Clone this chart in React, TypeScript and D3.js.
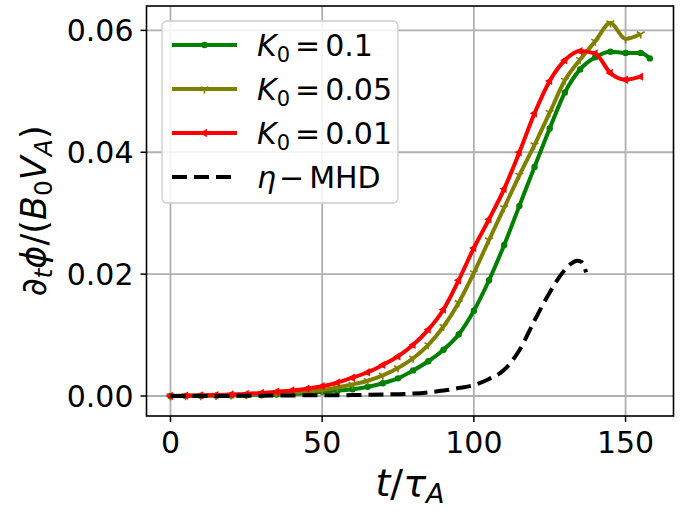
import * as d3 from 'd3'

const W = 685
const H = 515
const PLOT = { left: 146.5, right: 673.5, top: 6, bottom: 416 }

const X_TICKS = [0, 50, 100, 150]
const Y_TICKS = [0, 0.02, 0.04, 0.06]

// K0 = 0.1
const T_GREEN = [0, 5, 10, 15, 20, 25, 30, 35, 40, 45, 50, 55, 60, 65, 70, 75, 80, 85, 90, 95, 100, 105, 110, 115, 120, 125, 130, 135, 140, 145, 150, 155, 158]
const V_GREEN = [0, 0.00002, 0.00004, 0.00007, 0.0001, 0.00013, 0.00018, 0.00025, 0.00035, 0.0005, 0.0007, 0.0009, 0.0011, 0.0015, 0.0021, 0.0029, 0.0042, 0.0057, 0.0076, 0.0101, 0.014, 0.019, 0.0248, 0.0312, 0.0376, 0.0439, 0.0498, 0.0536, 0.0556, 0.0565, 0.0563, 0.0563, 0.0554]

// K0 = 0.05
const T_OLIVE = [0, 5, 10, 15, 20, 25, 30, 35, 40, 45, 50, 55, 60, 65, 70, 75, 80, 85, 90, 95, 100, 105, 110, 115, 120, 125, 130, 135, 140, 145, 150, 155]
const V_OLIVE = [0, 0.00003, 0.00006, 0.0001, 0.00015, 0.0002, 0.0003, 0.0004, 0.00055, 0.00075, 0.001, 0.0014, 0.0019, 0.0025, 0.0034, 0.0046, 0.0062, 0.0084, 0.0114, 0.0153, 0.0202, 0.0256, 0.0309, 0.0362, 0.0412, 0.0465, 0.0518, 0.0552, 0.0582, 0.0612, 0.0586, 0.0594]

// K0 = 0.01
const T_RED = [0, 5, 10, 15, 20, 25, 30, 35, 40, 45, 50, 55, 60, 65, 70, 75, 80, 85, 90, 95, 100, 105, 110, 115, 120, 125, 130, 135, 140, 145, 150, 155]
const V_RED = [0, 0.00005, 0.0001, 0.00015, 0.00025, 0.00035, 0.0005, 0.0007, 0.0009, 0.0012, 0.0016, 0.0022, 0.003, 0.0039, 0.0051, 0.0065, 0.0084, 0.0109, 0.0142, 0.019, 0.0243, 0.029, 0.034, 0.04, 0.0464, 0.0517, 0.0551, 0.0566, 0.0562, 0.053, 0.0519, 0.0524]

// eta - MHD
const T_MHD = [0, 10, 20, 30, 40, 50, 60, 70, 80, 85, 90, 95, 100, 105, 110, 115, 120, 125, 130, 132, 134, 135.5, 137]
const V_MHD = [0, 0, 0.00002, 0.00005, 0.0001, 0.00012, 0.00015, 0.00025, 0.0004, 0.0006, 0.0009, 0.0013, 0.0018, 0.0028, 0.0043, 0.0075, 0.0124, 0.017, 0.0207, 0.0217, 0.0222, 0.022, 0.0203]

const FONT = '"DejaVu Sans", sans-serif'

type Pt = { t: number; v: number }
const zip = (ts: number[], vs: number[]): Pt[] => ts.map((t, i) => ({ t, v: vs[i] }))

const x = d3.scaleLinear().domain([-7.9, 165.8]).range([PLOT.left, PLOT.right])
const y = d3.scaleLinear().domain([-0.00328, 0.064]).range([PLOT.bottom, PLOT.top])

const line = d3.line<Pt>().x(d => x(d.t)).y(d => y(d.v)).curve(d3.curveMonotoneX)

const triLeft = d3.symbol(d3.symbolTriangle, 30)() || ''

function Marker({ kind, color, cx, cy }: { kind: string; color: string; cx: number; cy: number }) {
  if (kind === 'dot') return <circle cx={cx} cy={cy} r={3.2} fill={color} />
  if (kind === 'tri') {
    const s = 4.5
    return (
      <path
        d={`M${cx},${cy}L${cx},${cy + s}M${cx},${cy}L${cx - s * 0.87},${cy - s * 0.5}M${cx},${cy}L${cx + s * 0.87},${cy - s * 0.5}`}
        stroke={color}
        strokeWidth={1.6}
        fill="none"
      />
    )
  }
  if (kind === 'left') return <path d={triLeft} transform={`translate(${cx},${cy}) rotate(-90)`} fill={color} />
  return null
}

const SERIES = [
  { data: zip(T_GREEN, V_GREEN), color: '#008000', marker: 'dot', dash: '' },
  { data: zip(T_OLIVE, V_OLIVE), color: '#808000', marker: 'tri', dash: '' },
  { data: zip(T_RED, V_RED), color: '#ff0000', marker: 'left', dash: '' },
  { data: zip(T_MHD, V_MHD), color: '#000000', marker: '', dash: '15,7' },
]

const LEGEND_LABELS = ['0.1', '0.05', '0.01']

export default function App() {
  const legendRows = [45, 89, 133, 177]
  return (
    <svg width={W} height={H} style={{ position: 'absolute', left: 0, top: 0, background: '#fff' }} fontFamily={FONT}>
      <defs>
        <clipPath id="plot-clip">
          <rect x={PLOT.left} y={PLOT.top} width={PLOT.right - PLOT.left} height={PLOT.bottom - PLOT.top} />
        </clipPath>
      </defs>

      {/* grid */}
      {X_TICKS.map(t => (
        <line key={`gx${t}`} x1={x(t)} x2={x(t)} y1={PLOT.top} y2={PLOT.bottom} stroke="#b0b0b0" strokeWidth={1.8} />
      ))}
      {Y_TICKS.map(v => (
        <line key={`gy${v}`} x1={PLOT.left} x2={PLOT.right} y1={y(v)} y2={y(v)} stroke="#b0b0b0" strokeWidth={1.8} />
      ))}

      {/* series */}
      <g clipPath="url(#plot-clip)">
        {SERIES.map((s, i) => (
          <g key={i}>
            <path
              d={line(s.data) || ''}
              fill="none"
              stroke={s.color}
              strokeWidth={4}
              strokeDasharray={s.dash || undefined}
              strokeLinejoin="round"
            />
            {s.marker && s.data.map((d, j) => (
              <Marker key={j} kind={s.marker} color={s.color} cx={x(d.t)} cy={y(d.v)} />
            ))}
          </g>
        ))}
      </g>

      {/* spines */}
      <rect x={PLOT.left} y={PLOT.top} width={PLOT.right - PLOT.left} height={PLOT.bottom - PLOT.top} fill="none" stroke="#000" strokeWidth={1.6} />

      {/* ticks */}
      {X_TICKS.map(t => (
        <g key={`tx${t}`}>
          <line x1={x(t)} x2={x(t)} y1={PLOT.bottom} y2={PLOT.bottom + 6} stroke="#000" strokeWidth={1.5} />
          <text x={x(t)} y={PLOT.bottom + 37} textAnchor="middle" fontSize={30} fill="#000">{t}</text>
        </g>
      ))}
      {Y_TICKS.map(v => (
        <g key={`ty${v}`}>
          <line x1={PLOT.left - 6} x2={PLOT.left} y1={y(v)} y2={y(v)} stroke="#000" strokeWidth={1.5} />
          <text x={PLOT.left - 13} y={y(v) + 11} textAnchor="end" fontSize={30} fill="#000">{v.toFixed(2)}</text>
        </g>
      ))}

      {/* axis labels */}
      <text x={(PLOT.left + PLOT.right) / 2} y={496} textAnchor="middle" fontSize={38} fill="#000">
        <tspan fontStyle="italic">t</tspan>
        <tspan>/</tspan>
        <tspan fontStyle="italic">τ</tspan>
        <tspan fontStyle="italic" fontSize={27} dy={7}>A</tspan>
      </text>
      <text transform={`translate(46,${(PLOT.top + PLOT.bottom) / 2}) rotate(-90)`} textAnchor="middle" fontSize={35} fill="#000">
        <tspan>∂</tspan>
        <tspan fontStyle="italic" fontSize={25} dy={6}>t</tspan>
        <tspan fontStyle="italic" dy={-6}>ϕ</tspan>
        <tspan>/(</tspan>
        <tspan fontStyle="italic">B</tspan>
        <tspan fontSize={25} dy={6}>0</tspan>
        <tspan fontStyle="italic" dy={-6}>V</tspan>
        <tspan fontStyle="italic" fontSize={25} dy={6}>A</tspan>
        <tspan dy={-6}>)</tspan>
      </text>

      {/* legend */}
      <rect x={162} y={21} width={236} height={182} rx={5} fill="#fff" fillOpacity={0.85} stroke="#cccccc" strokeWidth={1.3} />
      {SERIES.map((s, i) => {
        const ry = legendRows[i]
        return (
          <g key={`lg${i}`}>
            <line x1={172} x2={237} y1={ry} y2={ry} stroke={s.color} strokeWidth={4} strokeDasharray={s.dash || undefined} />
            {s.marker && <Marker kind={s.marker} color={s.color} cx={204.5} cy={ry} />}
            {i < 3 ? (
              <text x={257} y={ry + 11} fontSize={30} fill="#000">
                <tspan fontStyle="italic">K</tspan>
                <tspan fontSize={21} dy={6}>0</tspan>
                <tspan dy={-6} dx={5}>=</tspan>
                <tspan dx={5}>{LEGEND_LABELS[i]}</tspan>
              </text>
            ) : (
              <text x={257} y={ry + 11} fontSize={30} fill="#000">
                <tspan fontStyle="italic">η</tspan>
                <tspan dx={3}>−</tspan>
                <tspan dx={5}>MHD</tspan>
              </text>
            )}
          </g>
        )
      })}
    </svg>
  )
}
